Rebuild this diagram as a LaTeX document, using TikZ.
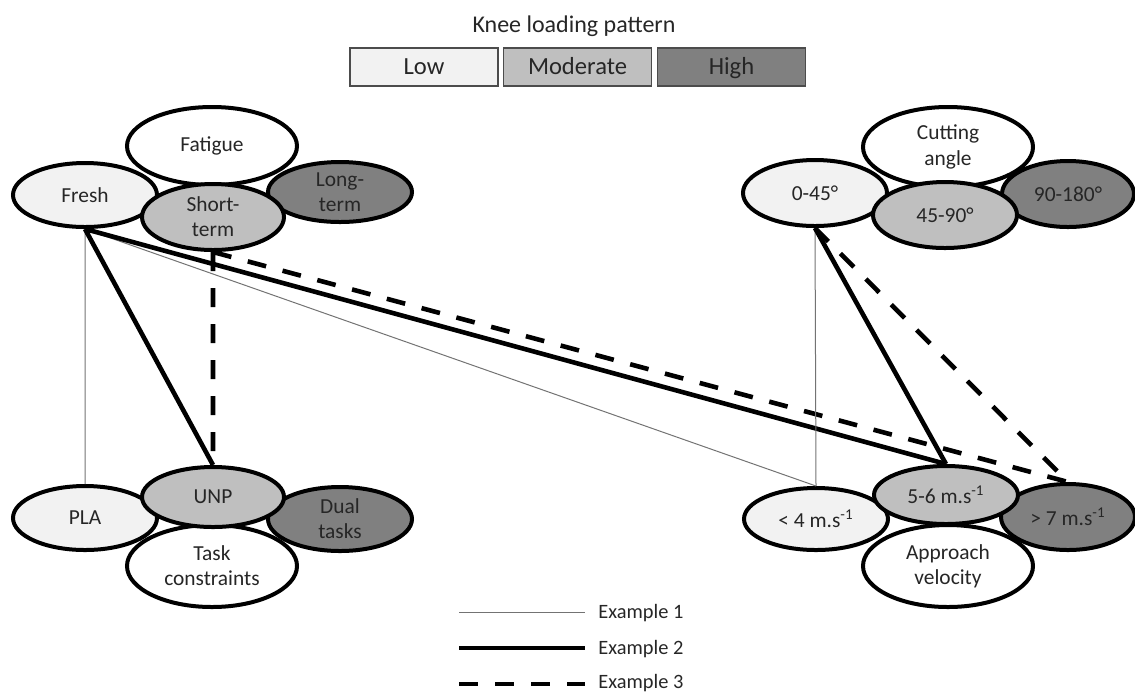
\documentclass[tikz,border=0pt]{standalone}
\usepackage{fontspec}
\setmainfont{Carlito}
\usetikzlibrary{shapes.geometric}
\definecolor{lowgray}{RGB}{242,242,242}
\definecolor{modgray}{RGB}{191,191,191}
\definecolor{highgray}{RGB}{128,128,128}

\begin{document}
\begin{tikzpicture}[x=0.5pt, y=-0.5pt,
    every node/.style={text=black!85},
    factor/.style={ellipse, draw=black, line width=2pt, fill=white, inner sep=0pt,
      minimum width=85pt, minimum height=40pt, align=center,
      font=\fontsize{10.7}{12.6}\selectfont},
    state/.style={factor, minimum width=72pt, minimum height=32pt},
    low/.style={state, fill=lowgray},
    moderate/.style={state, fill=modgray},
    high/.style={state, fill=highgray},
    keybox/.style={draw=black!70, line width=0.6pt, inner sep=0pt, minimum width=74pt,
      minimum height=19pt, text height=7.9pt, text depth=0pt,
      font=\fontsize{12.3}{14}\selectfont},
    example1/.style={line width=0.5pt, black!55},
    example2/.style={line width=2.3pt},
    example3/.style={line width=2.3pt, dash pattern=on 9.5pt off 8.5pt},
    legendtext/.style={anchor=base west, inner sep=0pt, font=\fontsize{10.2}{12}\selectfont}]
    \useasboundingbox (0,0) rectangle (1135,693);

    \node[anchor=base, font=\fontsize{12}{14}\selectfont] (title) at (574,32) {Knee loading pattern};
    \node[keybox, fill=lowgray] (keylow) at (424,67) {Low};
    \node[keybox, fill=modgray] (keymod) at (577.5,67) {Moderate};
    \node[keybox, fill=highgray] (keyhigh) at (731.5,67) {High};

    \node[factor, minimum height=39pt] (fatigue) at (212,146) {Fatigue};
    \node[low] (fresh) at (85,195) {Fresh};
    \node[high, minimum height=30pt] (longterm) at (340,192) {Long-\\term};
    \node[moderate, minimum width=71pt, minimum height=33pt] (shortterm) at (213,217) {Short-\\term};

    \node[factor] (angle) at (948,147) {Cutting\\angle};
    \node[low, minimum height=33pt] (narrow) at (815,193) {0-45°};
    \node[high, minimum width=66pt, minimum height=33pt] (wide) at (1068,194) {90-180°};
    \node[moderate, minimum height=33pt] (medium) at (945,215) {45-90°};

    \node[factor, minimum height=41pt] (task) at (212,566) {Task\\constraints};
    \node[low] (pla) at (85,518) {PLA};
    \node[high] (dual) at (340,519) {Dual\\tasks};
    \node[moderate, minimum width=71pt, minimum height=30pt] (unp) at (213,497) {UNP};

    \node[factor, minimum height=41pt] (velocity) at (948,566) {Approach\\velocity};
    \node[low, minimum height=31pt] (slow) at (816,519) {< 4 m.s\textsuperscript{-1}};
    \node[high, minimum width=67pt, minimum height=33pt] (fast) at (1068,517) {> 7 m.s\textsuperscript{-1}};
    \node[moderate, minimum height=29pt] (mid) at (946,495) {5-6 m.s\textsuperscript{-1}};

    \draw[example1] (fresh.south) -- (pla.north) (fresh.south) -- (slow.north);
    \draw[example2] (fresh.south) -- (unp.north) (fresh.south) -- (mid.north);
    \draw[example3] (shortterm.south) -- (unp.north) (shortterm.south) -- (fast.north);
    \draw[example1] (narrow.south) -- (slow.north);
    \draw[example2] (narrow.south) -- (mid.north);
    \draw[example3] (narrow.south) -- (fast.north);

    \coordinate (e1) at (459,612);
    \coordinate (e2) at (459,648);
    \coordinate (e3) at (459,684);
    \node[legendtext] (ex1) at (598,618) {Example 1};
    \node[legendtext] (ex2) at (598,654) {Example 2};
    \node[legendtext] (ex3) at (598,688) {Example 3};
    \draw[example1, shorten >=6.5pt] (e1) -- (e1 -| ex1.west);
    \draw[example2, shorten >=6.5pt] (e2) -- (e2 -| ex2.west);
    \draw[example3, shorten >=6.5pt] (e3) -- (e3 -| ex3.west);
\end{tikzpicture}
\end{document}
